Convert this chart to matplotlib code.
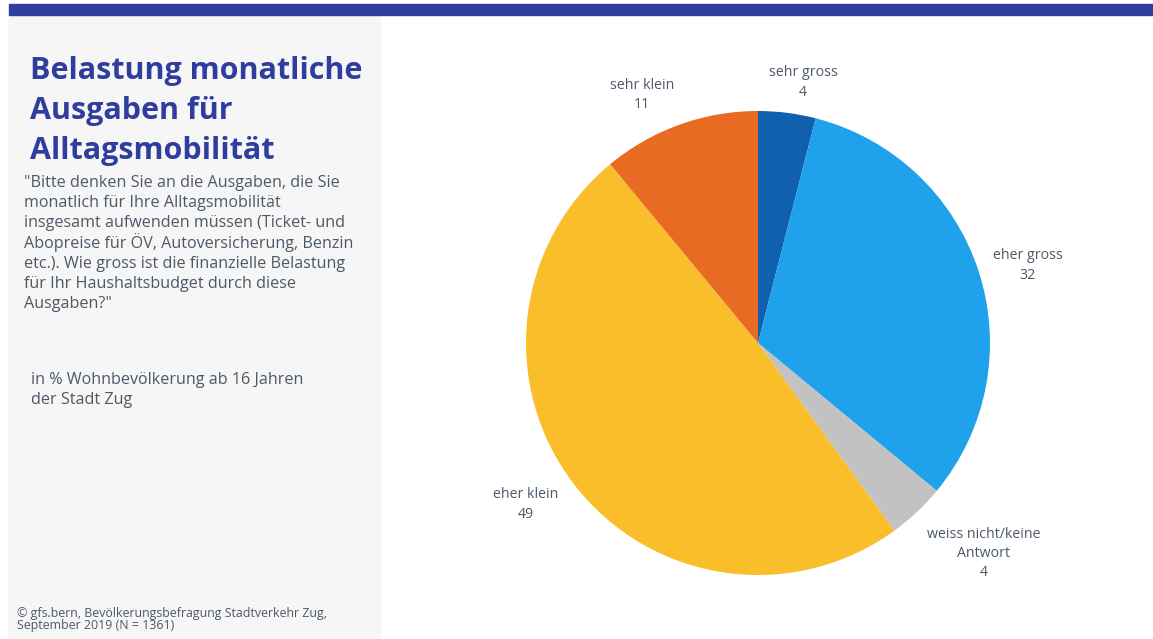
import matplotlib
matplotlib.use("Agg")
import matplotlib.pyplot as plt
from matplotlib.patches import Rectangle
import numpy as np

# survey answers, share in percent (clockwise from 12 o'clock)
categories = ["sehr gross", "eher gross", "weiss nicht/keine\nAntwort",
              "eher klein", "sehr klein"]
shares = [4, 32, 4, 49, 11]
colors = ["#0f60ae", "#1fa1eb", "#c2c2c2", "#f9be2a", "#e86a23"]

title_lines = ["Belastung monatliche", "Ausgaben für", "Alltagsmobilität"]
question_lines = ['"Bitte denken Sie an die Ausgaben, die Sie',
                  'monatlich für Ihre Alltagsmobilität',
                  'insgesamt aufwenden müssen (Ticket- und',
                  'Abopreise für ÖV, Autoversicherung, Benzin',
                  'etc.). Wie gross ist die finanzielle Belastung',
                  'für Ihr Haushaltsbudget durch diese',
                  'Ausgaben?"']
basis_lines = ["in % Wohnbevölkerung ab 16 Jahren", "der Stadt Zug"]
source_lines = ["© gfs.bern, Bevölkerungsbefragung Stadtverkehr Zug,",
                "September 2019 (N = 1361)"]

W, H = 1153, 639
NAVY = "#2f3e9e"
GREY_TEXT = "#4c5967"

plt.rcParams["font.family"] = ["Open Sans", "DejaVu Sans"]

fig = plt.figure(figsize=(W / 100, H / 100), dpi=100)
fig.patch.set_facecolor("white")


def fx(px):
    return px / W


def fy(py):
    return 1 - py / H


def text_block(lines, x, first_baseline, step, **kw):
    # one text per line so every line gets the same spacing
    for i, line in enumerate(lines):
        fig.text(fx(x), fy(first_baseline + i * step), line,
                 va="baseline", ha="left", **kw)


# grey side panel and top band
fig.patches.append(Rectangle((fx(8), 0), fx(372), fy(15),
                             transform=fig.transFigure, color="#f6f6f6", zorder=0))
fig.patches.append(Rectangle((fx(9), fy(15)), fx(W - 9), 11 / H,
                             transform=fig.transFigure, color=NAVY, zorder=1))

text_block(title_lines, 30, 79, 40, fontsize=22, fontweight="bold", color=NAVY)
text_block(question_lines, 24, 187, 20.2, fontsize=11.6, color=GREY_TEXT)
text_block(basis_lines, 31, 384, 19.5, fontsize=11.6, color=GREY_TEXT)
text_block(source_lines, 17, 617, 11.5, fontsize=8.9, color=GREY_TEXT)

# pie
cx, cy, r = 758, 343, 232
ax = fig.add_axes([fx(cx - r), fy(cy + r), 2 * r / W, 2 * r / H])
wedges, _ = ax.pie(shares, colors=colors, startangle=90, counterclock=False,
                   radius=1, wedgeprops=dict(linewidth=0))
ax.set_xlim(-1, 1)
ax.set_ylim(-1, 1)
ax.set_aspect("equal")

# label distance and small angle nudge per wedge
label_dist = [1.14, 1.21, 1.33, 1.22, 1.18]
label_nudge = [-2.6, -2.0, 3.8, -3.0, 5.2]
for w, cat, val, d, n in zip(wedges, categories, shares, label_dist, label_nudge):
    ang = np.deg2rad((w.theta1 + w.theta2) / 2 + n)
    ax.text(d * np.cos(ang), d * np.sin(ang), f"{cat}\n{val}",
            ha="center", va="center", fontsize=10.2, color=GREY_TEXT,
            linespacing=1.4)

fig.savefig("out.png", dpi=100)
